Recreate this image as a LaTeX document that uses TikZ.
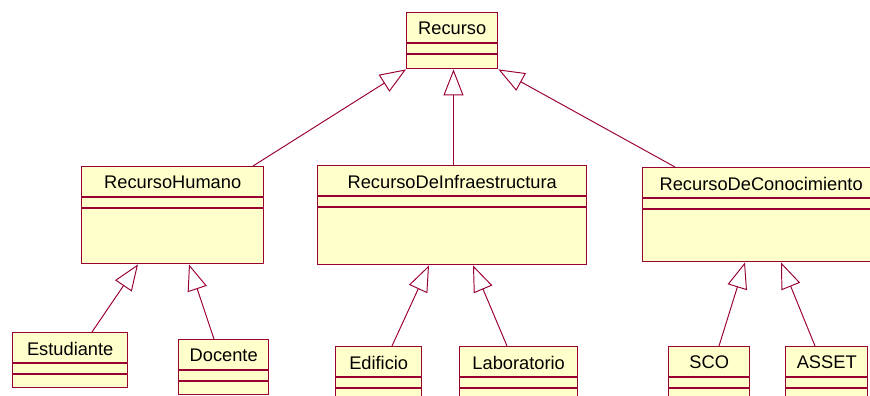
\documentclass[tikz,border=0pt]{standalone}
\usepackage{fontspec}
\setmainfont{Liberation Sans}
\usetikzlibrary{arrows.meta}

\definecolor{borde}{RGB}{153,0,51}
\definecolor{relleno}{RGB}{255,255,204}

\tikzset{
  clase/.style={rectangle, draw=borde, fill=relleno, line width=0.8pt, anchor=north west, inner sep=0pt},
  titulo/.style={inner sep=0pt, font=\fontsize{10.4}{12}\selectfont},
  division/.style={draw=borde, line width=0.6pt},
  hereda/.style={draw=borde, line width=0.55pt, -{Triangle[open, length=0.52cm, width=0.4cm]}},
}

% \umlclase{nombre}{x}{y}{ancho}{alto}{texto}
\newcommand{\umlclase}[6]{%
  \node[clase, minimum width=#4*0.02cm, minimum height=#5*0.02cm] (#1) at (#2,#3) {};
  \node[titulo] (#1-nombre) at ([yshift=-16.5*0.02cm]#1.north) {#6};
  \draw[division] ([yshift=-31*0.02cm]#1.north west) -- ([yshift=-31*0.02cm]#1.north east);
  \draw[division] ([yshift=-42*0.02cm]#1.north west) -- ([yshift=-42*0.02cm]#1.north east);
}

\begin{document}
\begin{tikzpicture}[x=0.02cm, y=-0.02cm]
        \path[use as bounding box, clip] (0,0) rectangle (870,396);

        % Clases
        \umlclase{recurso}{406}{12}{91}{56}{Recurso}
        \umlclase{humano}{81}{166}{182}{97}{RecursoHumano}
        \umlclase{infra}{317}{165}{269}{99}{RecursoDeInfraestructura}
        \umlclase{conoc}{642}{167}{237}{94}{RecursoDeConocimiento}
        \umlclase{estudiante}{12}{332}{115}{55}{Estudiante}
        \umlclase{docente}{178}{339}{90}{55}{Docente}
        \umlclase{edificio}{335}{346}{86}{60}{Edificio}
        \umlclase{laboratorio}{459}{346}{118}{60}{Laboratorio}
        \umlclase{sco}{668}{346}{81}{60}{SCO}
        \umlclase{asset}{785}{346}{82}{60}{ASSET}

        % Herencia
        \draw[hereda]  ([xshift=172*0.02cm]humano.north west) -- (recurso.south west);
        \draw[hereda]  ([xshift=136.5*0.02cm]infra.north west) -- ([xshift=47.5*0.02cm]recurso.south west);
        \draw[hereda]  ([xshift=33*0.02cm]conoc.north west) -- (recurso.south east);

        \draw[hereda]  ([xshift=80*0.02cm]estudiante.north west) -- ([xshift=57*0.02cm]humano.south west);
        \draw[hereda]  ([xshift=36*0.02cm]docente.north west) -- ([xshift=108*0.02cm]humano.south west);

        \draw[hereda]  ([xshift=57*0.02cm]edificio.north west) -- ([xshift=112*0.02cm]infra.south west);
        \draw[hereda]  ([xshift=48*0.02cm]laboratorio.north west) -- ([xshift=156*0.02cm]infra.south west);

        \draw[hereda]  ([xshift=51*0.02cm]sco.north west) -- ([xshift=103*0.02cm]conoc.south west);
        \draw[hereda]  ([xshift=30*0.02cm]asset.north west) -- ([xshift=139*0.02cm]conoc.south west);
\end{tikzpicture}
\end{document}
